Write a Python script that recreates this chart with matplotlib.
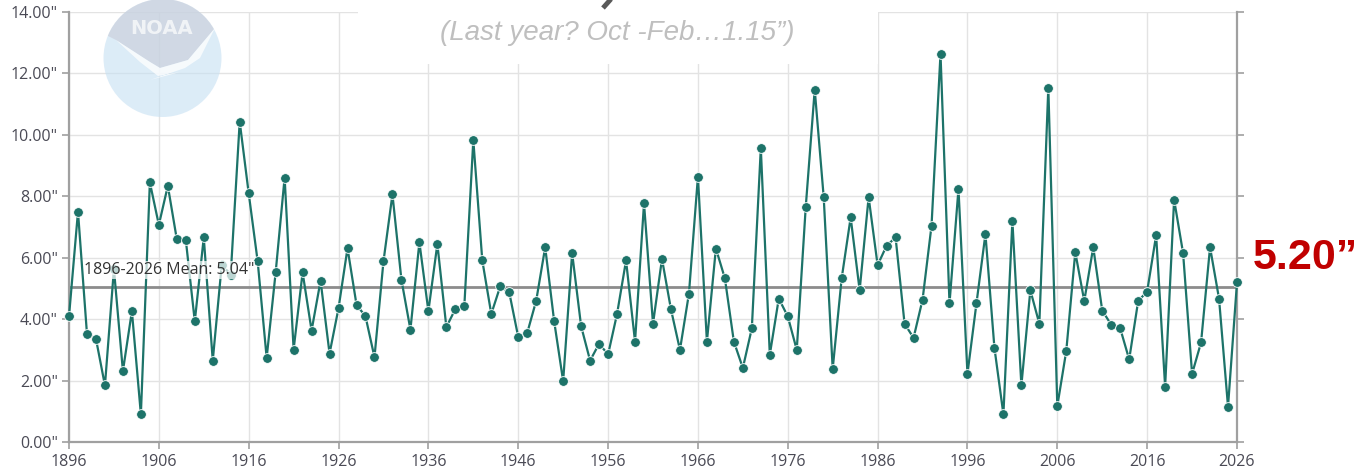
import matplotlib.pyplot as plt
from matplotlib.patches import Circle, Polygon, Rectangle
import numpy as np

years = list(range(1896, 2027))
rain = [4.09, 7.50, 3.52, 3.36, 1.84, 5.63, 2.31, 4.26, 0.90, 8.45,
        7.07, 8.34, 6.60, 6.58, 3.93, 6.66, 2.65, 5.77, 5.45, 10.43,
        8.10, 5.88, 2.74, 5.52, 8.61, 3.01, 5.52, 3.63, 5.25, 2.88,
        4.36, 6.31, 4.47, 4.09, 2.76, 5.88, 8.06, 5.28, 3.66, 6.50,
        4.26, 6.45, 3.74, 4.33, 4.42, 9.83, 5.91, 4.17, 5.07, 4.87,
        3.42, 3.55, 4.60, 6.34, 3.93, 1.98, 6.15, 3.77, 2.65, 3.20,
        2.85, 4.17, 5.91, 3.27, 7.77, 3.85, 5.96, 4.32, 3.00, 4.83,
        8.64, 3.27, 6.30, 5.33, 3.27, 2.41, 3.70, 9.57, 2.84, 4.67,
        4.09, 3.00, 7.65, 11.47, 7.97, 2.38, 5.33, 7.31, 4.94, 7.97,
        5.76, 6.39, 6.66, 3.85, 3.39, 4.63, 7.04, 12.64, 4.51, 8.24,
        2.22, 4.51, 6.77, 3.07, 0.90, 7.20, 1.84, 4.94, 3.85, 11.54,
        1.17, 2.97, 6.18, 4.59, 6.34, 4.28, 3.82, 3.70, 2.69, 4.59,
        4.90, 6.73, 1.80, 7.89, 6.15, 2.22, 3.24, 6.34, 4.67, 1.15,
        5.20]
mean_val = 5.04
x_ticks = list(range(1896, 2027, 10))
y_ticks = [0, 2, 4, 6, 8, 10, 12, 14]

W, H = 1361, 476
fig = plt.figure(figsize=(W / 100, H / 100), dpi=100)
ax = fig.add_axes([69 / W, 1 - 442 / H, (1237 - 69) / W, (442 - 12) / H])
ax.set_facecolor('none')

teal = '#1d7369'
ax.axhline(mean_val, color='#8c8c8c', lw=2, zorder=2)
ax.plot(years, rain, color=teal, lw=1.6, marker='o', ms=7,
        mfc=teal, mec='white', mew=0.6, zorder=3, clip_on=False)
ax.text(1897.7, mean_val + 0.3, '1896-2026 Mean: 5.04"', fontsize=11.5,
        color='#333333', family='Open Sans', va='bottom', ha='left', zorder=4,
        bbox=dict(facecolor='white', alpha=0.7, edgecolor='none', pad=0.5))

ax.set_xlim(1896, 2026)
ax.set_ylim(0, 14)
ax.set_xticks(x_ticks)
ax.set_yticks(y_ticks)
ax.set_yticklabels(['%.2f"' % v for v in y_ticks])
ax.grid(True, color='#e3e3e3', lw=1)
ax.set_axisbelow(True)
ax.spines['top'].set_visible(False)
for s in ['left', 'bottom', 'right']:
    ax.spines[s].set_color('#a0a0a0')
    ax.spines[s].set_linewidth(1.6)
ax.tick_params(axis='both', colors='#a0a0a0', length=5, width=1.2,
               labelcolor='#4a4a55', labelsize=11.5)
ax.tick_params(axis='y', right=True, pad=3)
ax.tick_params(axis='x', pad=4)
for lab in ax.get_xticklabels() + ax.get_yticklabels():
    lab.set_family('Open Sans')

# overlay in pixel coordinates
ov = fig.add_axes([0, 0, 1, 1], zorder=10)
ov.set_xlim(0, W)
ov.set_ylim(H, 0)
ov.axis('off')
ov.set_facecolor('none')

# faded logo (semi transparent so the grid shows through)
circ = Circle((162.5, 58), 59, facecolor='#c6e0f3', edgecolor='none', alpha=0.6)
ov.add_patch(circ)
top = Polygon([(100, 32), (116, 40), (150, 62), (160, 68), (188, 60), (215, 28),
               (225, -5), (100, -5)], closed=True, facecolor='#c9ccd8',
              edgecolor='none', alpha=0.6)
ov.add_patch(top)
top.set_clip_path(circ)
wing = Polygon([(116, 40), (150, 62), (160, 68), (188, 60), (215, 28),
                (200, 58), (185, 68), (150, 80), (180, 72), (158, 76), (140, 62)],
               closed=True, facecolor='white', edgecolor='none', alpha=0.75)
ov.add_patch(wing)
wing.set_clip_path(circ)
ov.text(162, 29, 'NOAA', color='white', fontsize=14, fontweight='bold',
        ha='center', va='center', family='DejaVu Sans', alpha=0.7)

# white box behind subtitle
ov.add_patch(Rectangle((358, -1), 520, 65, facecolor='white', edgecolor='none'))
# tail of a cut-off title glyph
ov.plot([611, 603], [-1, 8], color='#595959', lw=3.5, solid_capstyle='butt')
ov.text(617, 33, '(Last year? Oct -Feb…1.15”)', fontsize=20, color='#bfbfbf',
        style='italic', ha='center', va='center', family='Liberation Sans')

ov.text(1253, 258, '5.20”', fontsize=31, color='#c00000', fontweight='bold',
        ha='left', va='center', family='Liberation Sans')

fig.savefig('out.png', dpi=100)
